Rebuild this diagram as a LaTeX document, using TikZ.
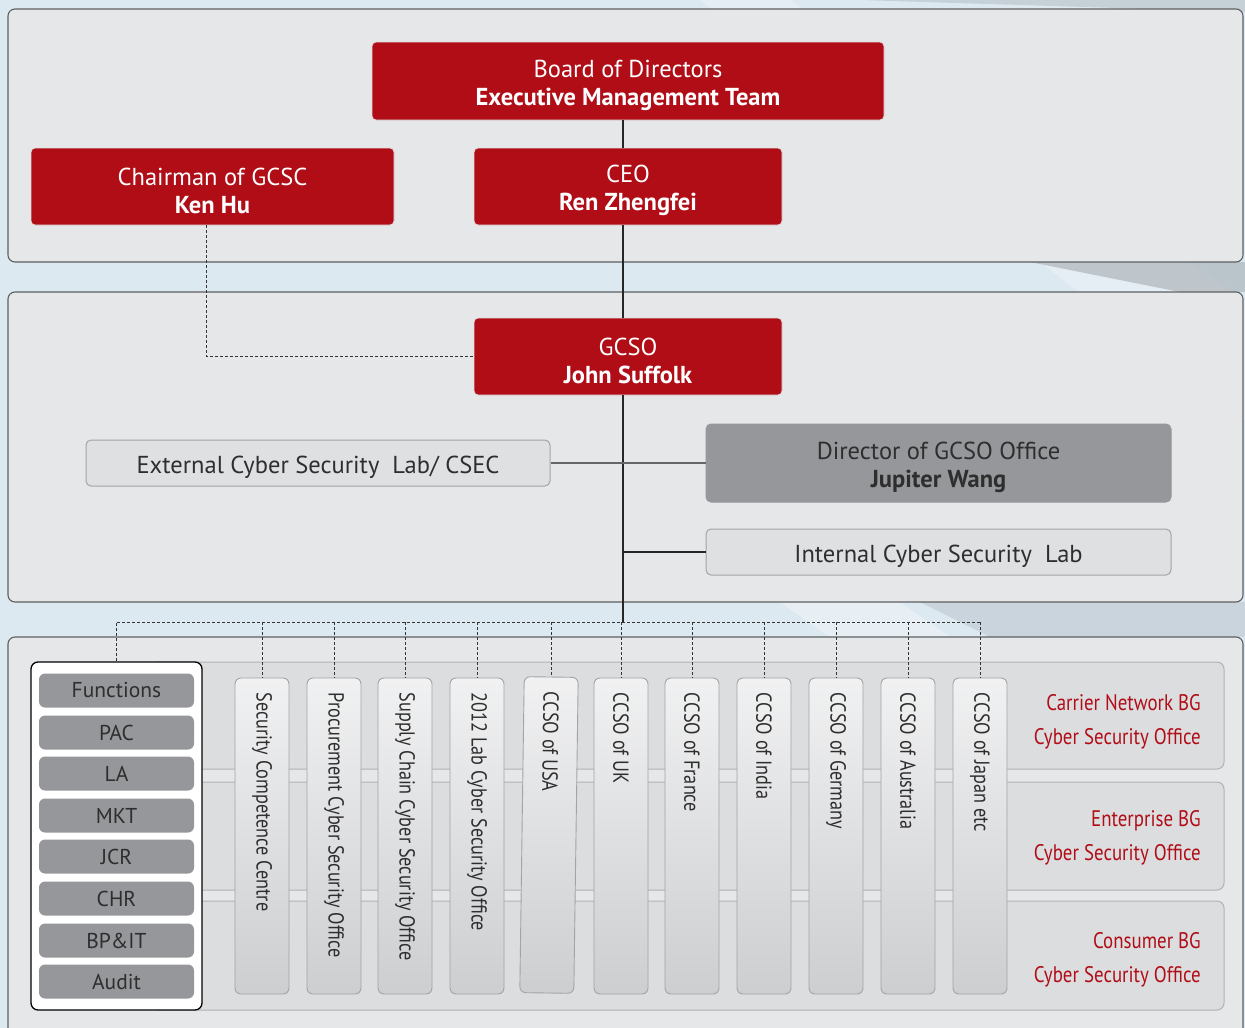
\documentclass[tikz,border=0pt]{standalone}
\usepackage{fontspec}
\setmainfont{PT Sans}
\newfontfamily\condfont[FakeStretch=0.84]{PT Sans}
\definecolor{hred}{HTML}{B00D17}
\definecolor{bgblue}{HTML}{DDE9F1}
\definecolor{panelfill}{HTML}{E6E7E9}
\definecolor{panelline}{HTML}{5E5F61}
\definecolor{lightbox}{HTML}{DFE0E2}
\definecolor{boxline}{HTML}{A3A4A6}
\definecolor{darkgrey}{HTML}{96979A}
\definecolor{txt}{HTML}{2E2E2E}
\definecolor{bandfill}{HTML}{DCDDDF}
\begin{document}
\begin{tikzpicture}[x=1pt,y=-1pt,
  panel/.style={fill=panelfill,draw=panelline,line width=1.1pt,rounded corners=7pt},
  rbox/.style={fill=hred,draw=white!75!gray,line width=0.8pt,rounded corners=4pt,inner sep=0pt},
  gbox/.style={fill=lightbox,draw=boxline,line width=1pt,rounded corners=5pt,inner sep=0pt},
  rtext/.style={text=white,align=center,inner sep=0pt,font=\fontsize{24.5}{28}\selectfont},
  gtext/.style={text=txt,align=center,inner sep=0pt,font=\fontsize{24.5}{28}\selectfont},
  fitem/.style={fill=darkgrey,rounded corners=6pt,text=txt,inner sep=0pt,minimum width=155pt,minimum height=34pt,font=\fontsize{21.5}{24}\selectfont},
  colbox/.style={top color=white!55!lightbox,bottom color=lightbox!92!black,draw=boxline,line width=0.9pt,rounded corners=6pt,minimum width=54pt,minimum height=316pt,inner sep=0pt},
  coltext/.style={rotate=-90,anchor=west,text=txt,inner sep=0pt,font=\condfont\fontsize{21.7}{24}\selectfont},
  band/.style={fill=bandfill,draw=boxline!85!white,line width=1pt,rounded corners=7pt},
  bgtext/.style={anchor=east,text=hred,align=right,inner sep=0pt,font=\condfont\fontsize{22.5}{34}\selectfont},
  solidline/.style={draw=black!85,line width=1.3pt},
  dashline/.style={draw=black!80,line width=0.8pt,dash pattern=on 3pt off 2pt}
]
\useasboundingbox (0,0) rectangle (1245,1028);
\clip (0,0) rectangle (1245,1028);
% background
\fill[bgblue] (0,0) rectangle (1245,1028);
\fill[white,opacity=0.25] (700,0) -- (790,0) -- (1245,300) -- (1245,420) -- cycle;
\fill[black!30!bgblue,opacity=0.35] (860,0) -- (1245,0) -- (1245,12) -- cycle;
\fill[black!35!bgblue,opacity=0.45] (1030,262) -- (1245,262) -- (1245,292) -- (1180,292) -- cycle;
\fill[black!25!bgblue,opacity=0.35] (920,602) -- (1245,602) -- (1245,637) -- (990,637) -- cycle;
\fill[white,opacity=0.3] (780,602) -- (900,602) -- (950,637) -- (830,637) -- cycle;
% panels
\draw[panel] (8,9) rectangle (1243,262);
\draw[panel] (8,292) rectangle (1243,602);
\draw[panel] (8,637) rectangle (1243,1045);
% bands
\draw[band] (150,662) rectangle (1224,769);
\draw[band] (150,782) rectangle (1224,890);
\draw[band] (150,901) rectangle (1224,1010);
% top nodes
\node[rbox,minimum width=512pt,minimum height=78pt] (board) at (628,81) {};
\node[rtext] (boardt) at ([yshift=-4pt]board.center) {Board of Directors\\\textbf{Executive Management Team}};
\node[rbox,minimum width=363pt,minimum height=77pt] (chair) at (212.5,186.5) {};
\node[rtext] (chairt) at ([yshift=-4pt]chair.center) {Chairman of GCSC\\\textbf{Ken Hu}};
\node[rbox,minimum width=308pt,minimum height=77pt] (ceo) at (628,186.5) {};
\node[rtext] (ceot) at ([yshift=-4pt]ceo.center) {CEO\\\textbf{Ren Zhengfei}};
\node[rbox,minimum width=308pt,minimum height=77pt] (gcso) at (628,356.5) {};
\node[rtext] (gcsot) at ([yshift=-4pt]gcso.center) {GCSO\\\textbf{John Suffolk}};
\node[gbox,minimum width=464pt,minimum height=46pt] (ext) at (318,463) {};
\node[gtext] (extt) at ([yshift=-4pt]ext.center) {External Cyber Security\ \ Lab/ CSEC};
\node[gbox,fill=darkgrey,draw=darkgrey,minimum width=465pt,minimum height=78pt] (dir) at (938.5,463) {};
\node[gtext] (dirt) at ([yshift=-4pt]dir.center) {Director of GCSO Office\\\textbf{Jupiter Wang}};
\node[gbox,minimum width=465pt,minimum height=46pt] (int) at (938.5,552) {};
\node[gtext] (intt) at ([yshift=-4pt]int.center) {Internal Cyber Security\ \ Lab};
% spine coordinates
\coordinate (spine) at (623,0);
\coordinate (bus) at (0,622);
\coordinate (chx) at (206,0);
% functions box
\node[fill=white,draw=black,line width=1.3pt,rounded corners=7pt,minimum width=171pt,minimum height=348pt,inner sep=0pt] (funbox) at (116.5,836) {};
\node[fitem] (f1) at (116.5,690.5) {Functions};
\node[fitem] (f2) at (116.5,732.5) {PAC};
\node[fitem] (f3) at (116.5,773.5) {LA};
\node[fitem] (f4) at (116.5,815.5) {MKT};
\node[fitem] (f5) at (116.5,856.5) {JCR};
\node[fitem] (f6) at (116.5,898.5) {CHR};
\node[fitem] (f7) at (116.5,940.5) {BP\&IT};
\node[fitem] (f8) at (116.5,981.5) {Audit};
% columns
\node[colbox] (c1) at (262,836) {};
\node[colbox] (c2) at (334,836) {};
\node[colbox] (c3) at (405,836) {};
\node[colbox] (c4) at (477,836) {};
\node[colbox,rotate=-0.8] (c5) at (549,835) {};
\node[colbox] (c6) at (621,836) {};
\node[colbox] (c7) at (692,836) {};
\node[colbox] (c8) at (764,836) {};
\node[colbox] (c9) at (836,836) {};
\node[colbox] (c10) at (908,836) {};
\node[colbox] (c11) at (980,836) {};
\node[coltext] (t1) at ([yshift=-15pt]c1.north) {Security Competence Centre};
\node[coltext] (t2) at ([yshift=-15pt]c2.north) {Procurement Cyber Security Office};
\node[coltext] (t3) at ([yshift=-15pt]c3.north) {Supply Chain Cyber Security Office};
\node[coltext] (t4) at ([yshift=-15pt]c4.north) {2012 Lab Cyber Security Office};
\node[coltext,rotate=-0.8] (t5) at ([yshift=-15pt]c5.north) {CCSO of USA};
\node[coltext] (t6) at ([yshift=-15pt]c6.north) {CCSO of UK};
\node[coltext] (t7) at ([yshift=-15pt]c7.north) {CCSO of France};
\node[coltext] (t8) at ([yshift=-15pt]c8.north) {CCSO of India};
\node[coltext] (t9) at ([yshift=-15pt]c9.north) {CCSO of Germany};
\node[coltext] (t10) at ([yshift=-15pt]c10.north) {CCSO of Australia};
\node[coltext] (t11) at ([yshift=-15pt]c11.north) {CCSO of Japan etc};
% BG texts
\node[bgtext] (bg1) at (1201,722) {Carrier Network BG\\Cyber Security Office};
\node[bgtext] (bg2) at (1201,838) {Enterprise BG\\Cyber Security Office};
\node[bgtext] (bg3) at (1201,960) {Consumer BG\\Cyber Security Office};
% connectors
\draw[solidline] (board.south -| spine) -- (ceo.north -| spine);
\draw[solidline] (ceo.south -| spine) -- (gcso.north -| spine);
\draw[solidline] (gcso.south -| spine) -- (spine |- bus);
\draw[dashline] (chair.south -| chx) |- (gcso.west);
\draw[draw=black!60,line width=2pt] (ext.east) -- (dir.west);
\draw[solidline] (int.west) -- (int.west -| spine);
\draw[dashline] (funbox.north) -- (funbox.north |- bus) -- (c11.north |- bus);
\foreach \c in {c1,c2,c3,c4,c5,c6,c7,c8,c9,c10,c11}
  \draw[dashline] (\c.north |- bus) -- (\c.north);
\end{tikzpicture}
\end{document}
